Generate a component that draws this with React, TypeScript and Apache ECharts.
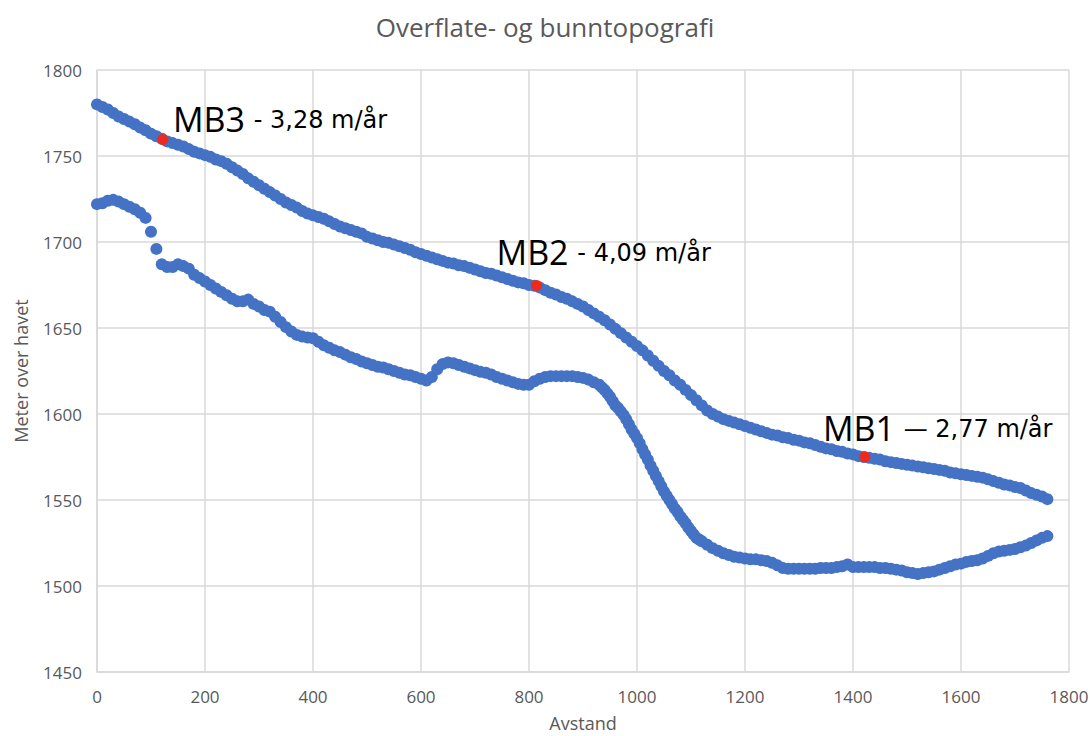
import React, { useEffect, useRef } from "react";
import * as echarts from "echarts";

const chartTitle = "Overflate- og bunntopografi";
const xAxisName = "Avstand";
const yAxisName = "Meter over havet";

// [distance (m), elevation (m)]
const surfaceProfile: number[][] = [
  [0,1780],[10,1778.5],[20,1777],[30,1775],[40,1773],[50,1771.5],[60,1770],[70,1768.5],[80,1766.5],[90,1765],
  [100,1763],[110,1761.5],[120,1760],[130,1758.5],[140,1757.5],[150,1756.5],[160,1755.5],[170,1754],[180,1752.5],[190,1751.5],
  [200,1750.5],[210,1749.5],[220,1748],[230,1747],[240,1745.5],[250,1743.5],[260,1741.5],[270,1739.5],[280,1737],[290,1735],
  [300,1733],[310,1731],[320,1729],[330,1727],[340,1725],[350,1723],[360,1721.5],[370,1720],[380,1718],[390,1716.5],
  [400,1715.5],[410,1714.5],[420,1713.5],[430,1712],[440,1710.5],[450,1709],[460,1708],[470,1707],[480,1706],[490,1705],
  [500,1703],[510,1702],[520,1701],[530,1700],[540,1699.5],[550,1698.5],[560,1697.5],[570,1696.5],[580,1695.5],[590,1694],
  [600,1693],[610,1692],[620,1691],[630,1690],[640,1689],[650,1688],[660,1687.5],[670,1686.5],[680,1686],[690,1685],
  [700,1684],[710,1683],[720,1682],[730,1681.5],[740,1680.5],[750,1679.5],[760,1678.5],[770,1677.5],[780,1676.5],[790,1676],
  [800,1675],[810,1674.5],[820,1673.5],[830,1672],[840,1670.5],[850,1669.5],[860,1668],[870,1667],[880,1665.5],[890,1664],
  [900,1662.5],[910,1660.5],[920,1658.5],[930,1656.5],[940,1654.5],[950,1652],[960,1649.5],[970,1647],[980,1644.5],[990,1642],
  [1000,1639.5],[1010,1637],[1020,1634],[1030,1631],[1040,1628],[1050,1625],[1060,1622.5],[1070,1619.5],[1080,1617],[1090,1614],
  [1100,1611],[1110,1608],[1120,1605],[1130,1602],[1140,1600],[1150,1598.5],[1160,1597],[1170,1596],[1180,1595],[1190,1594],
  [1200,1593],[1210,1592],[1220,1591],[1230,1590],[1240,1589],[1250,1588],[1260,1587.5],[1270,1586.5],[1280,1586],[1290,1585],
  [1300,1584.5],[1310,1583.5],[1320,1583],[1330,1582],[1340,1581],[1350,1580],[1360,1579.5],[1370,1578.5],[1380,1578],[1390,1577],
  [1400,1576.5],[1410,1575.5],[1420,1575],[1430,1574.5],[1440,1574],[1450,1573.5],[1460,1572.5],[1470,1572],[1480,1571.5],[1490,1571],
  [1500,1570.5],[1510,1570],[1520,1569.5],[1530,1569],[1540,1568.5],[1550,1568],[1560,1567.5],[1570,1567],[1580,1566],[1590,1565.5],
  [1600,1565],[1610,1564.5],[1620,1564],[1630,1563.5],[1640,1563],[1650,1562],[1660,1561],[1670,1560],[1680,1559],[1690,1558.5],
  [1700,1557.5],[1710,1557],[1720,1555.5],[1730,1554],[1740,1553],[1750,1552],[1760,1550.5]
];

const bedProfile: number[][] = [
  [0,1722],[10,1722.5],[20,1724],[30,1724.5],[40,1723.5],[50,1722],[60,1720.5],[70,1719],[80,1717],[90,1714],
  [100,1706],[110,1696],[120,1687],[130,1685.5],[140,1685.5],[150,1687],[160,1686],[170,1684.5],[180,1681],[190,1679],
  [200,1677],[210,1675],[220,1673],[230,1671],[240,1669],[250,1667],[260,1665.5],[270,1665.5],[280,1666.5],[290,1664],
  [300,1662.5],[310,1660.5],[320,1659.5],[330,1656.5],[340,1653.5],[350,1650.5],[360,1648],[370,1646],[380,1645],[390,1644.5],
  [400,1644],[410,1642],[420,1640],[430,1638.5],[440,1637],[450,1636],[460,1634.5],[470,1633],[480,1632],[490,1630.5],
  [500,1629.5],[510,1628.5],[520,1627.5],[530,1627],[540,1626],[550,1625],[560,1624],[570,1623],[580,1622.5],[590,1621.5],
  [600,1620.5],[610,1619.5],[620,1621.5],[630,1626],[640,1629],[650,1630],[660,1629.5],[670,1628.5],[680,1627.5],[690,1626.5],
  [700,1625.5],[710,1624.5],[720,1624],[730,1623],[740,1621.5],[750,1620.5],[760,1619.5],[770,1618.5],[780,1617.5],[790,1617],
  [800,1617],[810,1619],[820,1620.5],[830,1621.5],[840,1622],[850,1622],[860,1622],[870,1622],[880,1622],[890,1621.5],
  [900,1621],[910,1620],[920,1618.5],[930,1617],[935,1615.5],[940,1614],[945,1612],[950,1610],[955,1607.5],[960,1605],[965,1603.5],
  [970,1601.5],[975,1599.5],[980,1597],[985,1594],[990,1591],[995,1588.5],[1000,1586],[1005,1583],[1010,1579.5],[1015,1576.5],
  [1020,1573.5],[1025,1570],[1030,1567],[1035,1564],[1040,1561],[1045,1558],[1050,1555],[1055,1552.5],[1060,1550],[1065,1547.5],
  [1070,1545],[1075,1543],[1080,1540.5],[1085,1538.5],[1090,1536.5],[1095,1534],[1100,1532],[1105,1530],[1110,1528],[1115,1527],
  [1120,1526],[1130,1524],[1140,1522],[1150,1520.5],[1160,1519],[1170,1518],[1180,1517],[1190,1516.5],
  [1200,1516],[1210,1515.5],[1220,1515.5],[1230,1515],[1240,1514.5],[1250,1513.5],[1260,1512],[1270,1510.5],[1280,1510],[1290,1510],
  [1300,1510],[1310,1510],[1320,1510],[1330,1510],[1340,1510.5],[1350,1510.5],[1360,1510.5],[1370,1511],[1380,1511.5],[1390,1512.5],
  [1400,1511],[1410,1511],[1420,1511],[1430,1511],[1440,1511],[1450,1510.5],[1460,1510.5],[1470,1510],[1480,1509.5],[1490,1509],
  [1500,1508],[1510,1507.5],[1520,1507],[1530,1507.5],[1540,1508],[1550,1508.5],[1560,1509.5],[1570,1510.5],[1580,1511.5],[1590,1512.5],
  [1600,1513],[1610,1514],[1620,1514.5],[1630,1515],[1640,1516],[1650,1517.5],[1660,1519],[1670,1520],[1680,1520.5],[1690,1521],
  [1700,1521.5],[1710,1522.5],[1720,1523.5],[1730,1525],[1740,1526.5],[1750,1528],[1760,1529]
];

// Measurement stakes on the surface
const stakeNames = ["MB3", "MB2", "MB1"];
const stakeRates = ["- 3,28 m/år", "- 4,09 m/år", "— 2,77 m/år"];
const stakeDistances = [122, 814, 1422];
const stakeElevations = [1759.6, 1674.7, 1575];
const stakeLabelOffsets = [[10, -3], [-40, -17], [-42, -12]];

const xTicks = { min: 0, max: 1800, interval: 200 };
const yTicks = { min: 1450, max: 1800, interval: 50 };

const FONT = "'Open Sans', sans-serif";
const NOTE_FONT = "'DejaVu Sans', sans-serif";
const GREY = "#595959";
const BLUE = "#4472C4";
const RED = "#EE2A1E";

export default function App() {
  const ref = useRef<HTMLDivElement>(null);
  useEffect(() => {
    document.body.style.margin = "0";
    if (!ref.current) return;
    const chart = echarts.init(ref.current, undefined, { renderer: "svg" });
    const stakeData = stakeNames.map((n, i) => ({
      value: [stakeDistances[i], stakeElevations[i]],
      label: {
        show: true,
        position: ["50%", "50%"],
        align: "left",
        verticalAlign: "bottom",
        offset: stakeLabelOffsets[i],
        formatter: `{b|${n} }{s|${stakeRates[i]}}`,
      },
    }));
    chart.setOption({
      animation: false,
      backgroundColor: "#ffffff",
      title: {
        text: chartTitle,
        left: "center",
        top: 9,
        textStyle: { fontFamily: FONT, fontSize: 26, fontWeight: "normal", color: GREY },
      },
      grid: { left: 97, right: 21, top: 70, bottom: 64, containLabel: false, outerBoundsMode: "none" },
      xAxis: {
        type: "value",
        min: xTicks.min,
        max: xTicks.max,
        interval: xTicks.interval,
        name: xAxisName,
        nameLocation: "middle",
        nameGap: 42,
        nameTextStyle: { fontFamily: FONT, fontSize: 18, color: GREY },
        axisLine: { show: true, lineStyle: { color: "#d9d9d9", width: 1.5 } },
        axisTick: { show: false },
        axisLabel: { fontFamily: FONT, fontSize: 17, color: GREY, margin: 16, formatter: (v: number) => String(v) },
        splitLine: { show: true, lineStyle: { color: "#d9d9d9", width: 1.5 } },
      },
      yAxis: {
        type: "value",
        min: yTicks.min,
        max: yTicks.max,
        interval: yTicks.interval,
        name: yAxisName,
        nameLocation: "middle",
        nameGap: 67,
        nameRotate: 90,
        nameTextStyle: { fontFamily: FONT, fontSize: 18, color: GREY },
        axisLine: { show: true, lineStyle: { color: "#d9d9d9", width: 1.5 } },
        axisTick: { show: false },
        axisLabel: { fontFamily: FONT, fontSize: 17, color: GREY, margin: 15, formatter: (v: number) => String(v) },
        splitLine: { show: true, lineStyle: { color: "#d9d9d9", width: 1.5 } },
      },
      series: [
        {
          name: "Overflate",
          type: "scatter",
          data: surfaceProfile,
          symbolSize: 12,
          itemStyle: { color: BLUE, opacity: 1 },
          z: 2,
        },
        {
          name: "Bunn",
          type: "scatter",
          data: bedProfile,
          symbolSize: 12,
          itemStyle: { color: BLUE, opacity: 1 },
          z: 2,
        },
        {
          name: "Stakes",
          type: "scatter",
          data: stakeData,
          symbolSize: 11,
          itemStyle: { color: RED, opacity: 1 },
          z: 3,
          label: {
            color: "#000",
            rich: {
              b: { fontFamily: FONT, fontSize: 34, color: "#000", lineHeight: 40, verticalAlign: "bottom" },
              s: { fontFamily: NOTE_FONT, fontSize: 24, color: "#000", lineHeight: 40, verticalAlign: "bottom", padding: [0, 0, 4, 0] },
            },
          },
        },
      ],
    });
    return () => chart.dispose();
  }, []);
  return <div ref={ref} style={{ width: 1090, height: 736 }} />;
}
